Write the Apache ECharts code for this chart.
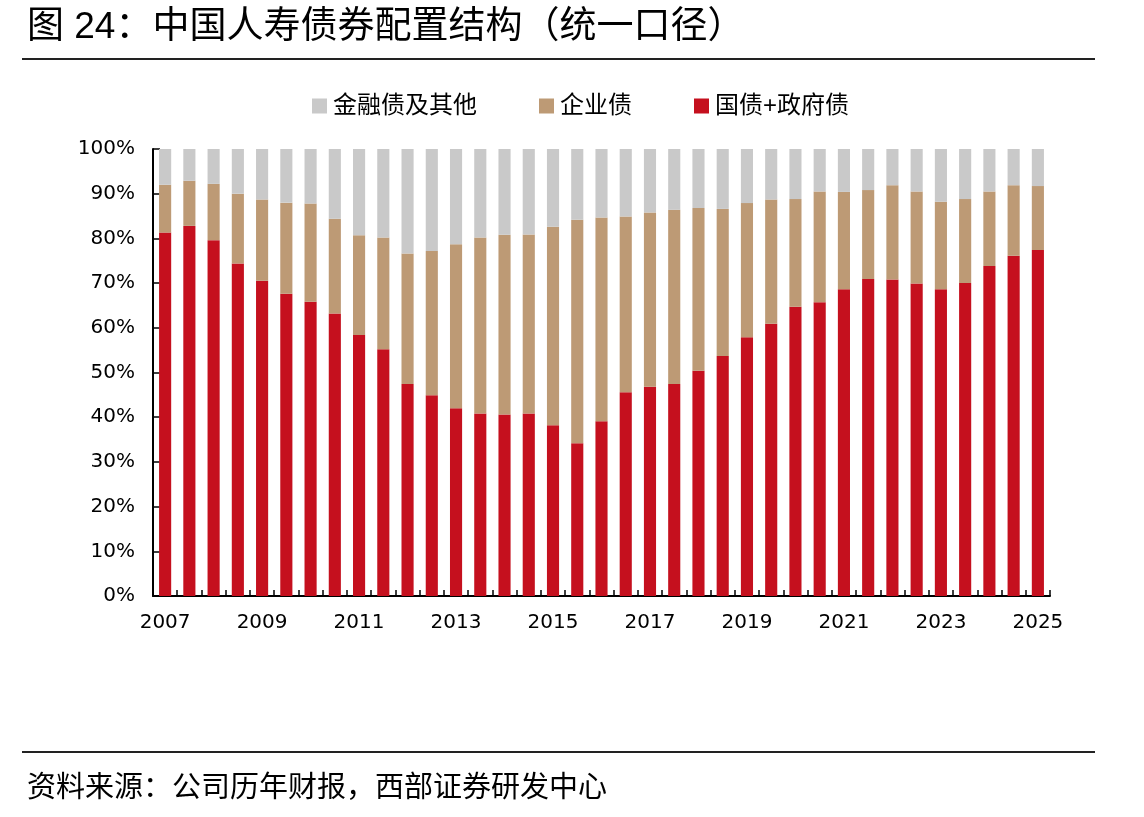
<!DOCTYPE html>
<html>
<head>
<meta charset="utf-8">
<script src="https://cdn.jsdelivr.net/npm/echarts@6/dist/echarts.min.js"></script>
<style>
  html, body { margin: 0; padding: 0; background: #fff; }
  #main { width: 1144px; height: 817px; }
</style>
</head>
<body>
<div id="main"></div>
<script>
// 半年度期末：2007H1 ... 2025H1
const periods = [
  '2007H1','2007H2','2008H1','2008H2','2009H1','2009H2','2010H1','2010H2',
  '2011H1','2011H2','2012H1','2012H2','2013H1','2013H2','2014H1','2014H2',
  '2015H1','2015H2','2016H1','2016H2','2017H1','2017H2','2018H1','2018H2',
  '2019H1','2019H2','2020H1','2020H2','2021H1','2021H2','2022H1','2022H2',
  '2023H1','2023H2','2024H1','2024H2','2025H1'
];
// 国债+政府债 (%)
const govBond = [81.3, 82.8, 79.6, 74.4, 70.5, 67.6, 65.8, 63.2, 58.4, 55.2,
  47.4, 44.9, 42.0, 40.8, 40.6, 40.8, 38.2, 34.2, 39.1, 45.6, 46.8, 47.4, 50.4,
  53.7, 57.9, 60.9, 64.7, 65.7, 68.6, 70.9, 70.8, 69.9, 68.6, 70.0, 73.8, 76.1, 77.4];
// 企业债 (%)
const corpBond = [10.7, 10.1, 12.6, 15.6, 18.2, 20.4, 22.0, 21.2, 22.3, 25.0,
  29.2, 32.3, 36.7, 39.4, 40.2, 40.1, 44.4, 50.0, 45.6, 39.3, 39.0, 39.0, 36.4,
  32.9, 30.0, 27.8, 24.1, 24.8, 21.8, 19.9, 21.1, 20.6, 19.6, 18.8, 16.7, 15.8, 14.3];
// 金融债及其他 (%)
const finBond = [8.0, 7.1, 7.8, 10.0, 11.3, 12.0, 12.2, 15.6, 19.3, 19.8,
  23.4, 22.8, 21.3, 19.8, 19.2, 19.1, 17.4, 15.8, 15.3, 15.1, 14.2, 13.6, 13.2,
  13.4, 12.1, 11.3, 11.2, 9.5, 9.6, 9.2, 8.1, 9.5, 11.8, 11.2, 9.5, 8.1, 8.3];

const cjk = "'Liberation Sans', 'Noto Sans CJK SC', sans-serif";
const num = "'DejaVu Sans', sans-serif";

const chart = echarts.init(document.getElementById('main'));
chart.setOption({
  backgroundColor: '#fff',
  animation: false,
  title: [
    {
      text: '图 24：中国人寿债券配置结构（统一口径）',
      left: 22, top: 4,
      textStyle: { fontFamily: cjk, fontSize: 37, fontWeight: 'normal', color: '#000' }
    },
    {
      text: '资料来源：公司历年财报，西部证券研发中心',
      left: 22, top: 769,
      textStyle: { fontFamily: cjk, fontSize: 29, fontWeight: 'normal', color: '#000' }
    }
  ],
  graphic: [
    { type: 'line', shape: { x1: 22, y1: 59, x2: 1095, y2: 59 }, style: { stroke: '#222', lineWidth: 2 } },
    { type: 'line', shape: { x1: 22, y1: 752, x2: 1095, y2: 752 }, style: { stroke: '#222', lineWidth: 2 } }
  ],
  legend: {
    data: ['金融债及其他', '企业债', '国债+政府债'],
    left: 307, top: 89,
    icon: 'rect',
    itemWidth: 15, itemHeight: 15, itemGap: 62,
    textStyle: { fontFamily: cjk, fontSize: 24, color: '#000', padding: [0, 0, 0, 1] }
  },
  grid: { left: 153, right: 94, top: 149, bottom: 221, containLabel: false },
  xAxis: {
    type: 'category',
    data: periods,
    boundaryGap: true,
    axisLine: { lineStyle: { color: '#000', width: 2 } },
    axisTick: { show: true, inside: true, length: 6, interval: 0, lineStyle: { color: '#000', width: 1.5 } },
    axisLabel: {
      interval: 3,
      formatter: v => v.slice(0, 4),
      fontFamily: num, fontSize: 20, color: '#000', margin: 17
    },
    splitLine: { show: false }
  },
  yAxis: {
    type: 'value',
    min: 0, max: 100, interval: 10,
    axisLine: { show: true, lineStyle: { color: '#000', width: 2 } },
    axisTick: { show: true, inside: true, length: 7, lineStyle: { color: '#000', width: 1.5 } },
    axisLabel: { formatter: '{value}%', fontFamily: num, fontSize: 20, color: '#000', margin: 18 },
    splitLine: { show: false }
  },
  series: [
    { name: '国债+政府债', type: 'bar', stack: 'total', barWidth: '50%', data: govBond, itemStyle: { color: '#C5101E' } },
    { name: '企业债', type: 'bar', stack: 'total', barWidth: '50%', data: corpBond, itemStyle: { color: '#BD9A75' } },
    { name: '金融债及其他', type: 'bar', stack: 'total', barWidth: '50%', data: finBond, itemStyle: { color: '#C9C9C9' } }
  ]
});
</script>
</body>
</html>
